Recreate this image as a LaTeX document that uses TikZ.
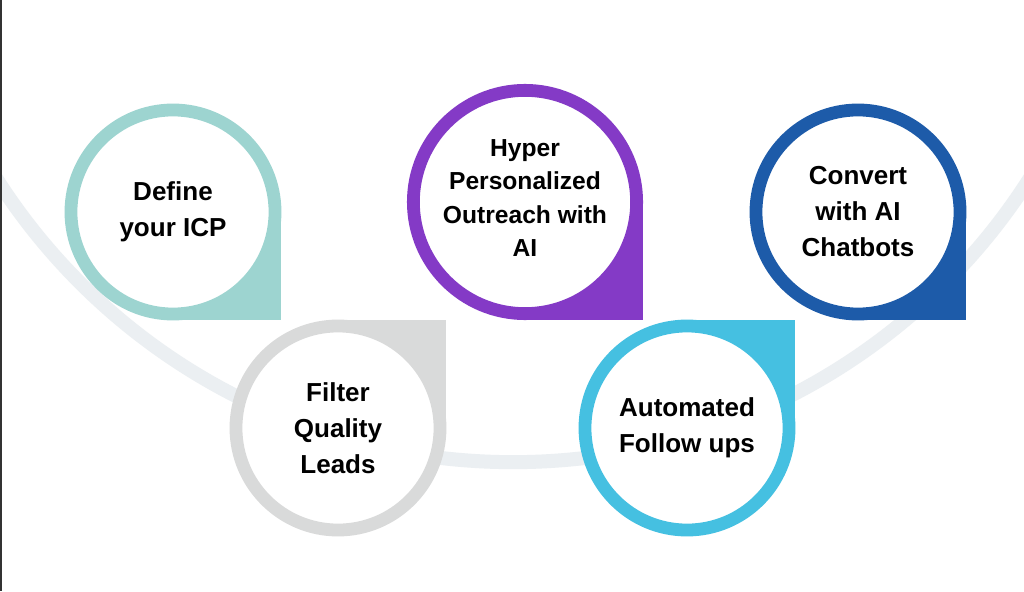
\documentclass[tikz,border=0pt]{standalone}
\usepackage{fontspec}
\setmainfont{Liberation Sans}
\usepackage{xcolor}

\definecolor{icpteal}{RGB}{157,212,208}
\definecolor{aipurple}{RGB}{132,58,198}
\definecolor{chatblue}{RGB}{29,91,169}
\definecolor{leadgray}{RGB}{217,218,218}
\definecolor{followcyan}{RGB}{69,192,225}
\definecolor{arcgray}{RGB}{235,239,242}

\begin{document}
\begin{tikzpicture}[x=0.025cm, y=-0.025cm,
  bubble/.style={circle, draw=#1, line width=0.32cm, fill=white, inner sep=0pt,
    minimum size=5.1cm, align=center, text=black,
    font=\bfseries\fontsize{18.5}{25.6}\selectfont},
  big bubble/.style={bubble=#1, minimum size=5.58cm,
    font=\bfseries\fontsize{17.5}{23.8}\selectfont}]
    \useasboundingbox (0,0) rectangle (1024,591);
    \fill[white] (0,0) rectangle (1024,591);
    % the track behind the steps
    \begin{scope}
        \clip (0,0) rectangle (1024,591);
        \draw[arcgray, line width=0.35cm] (513,-150) circle (15.3cm);
    \end{scope}
    \draw[black!80, line width=0.05cm] (1,0) -- (1,591);
    % square corners
    \fill[icpteal] (173,212) rectangle ++(108,108);
    \fill[aipurple] (525,202) rectangle ++(118,118);
    \fill[chatblue] (858,212) rectangle ++(108,108);
    \fill[leadgray] (338,428) rectangle ++(108,-108);
    \fill[followcyan] (687,428) rectangle ++(108,-108);
    % steps
    \node[bubble=icpteal] (icp) at (173,212) {Define\\your ICP};
    \node[big bubble=aipurple] (outreach) at (525,202) {};
    \node[font=\bfseries\fontsize{17.5}{23.8}\selectfont, align=center]
        (outreachtext) at (525,198) {Hyper\\Personalized\\Outreach with\\AI};
    \node[bubble=chatblue] (convert) at (858,212) {Convert\\with AI\\Chatbots};
    \node[bubble=leadgray] (filter) at (338,428) {Filter\\Quality\\Leads};
    \node[bubble=followcyan] (followup) at (687,428) {Automated\\Follow ups};
\end{tikzpicture}
\end{document}
